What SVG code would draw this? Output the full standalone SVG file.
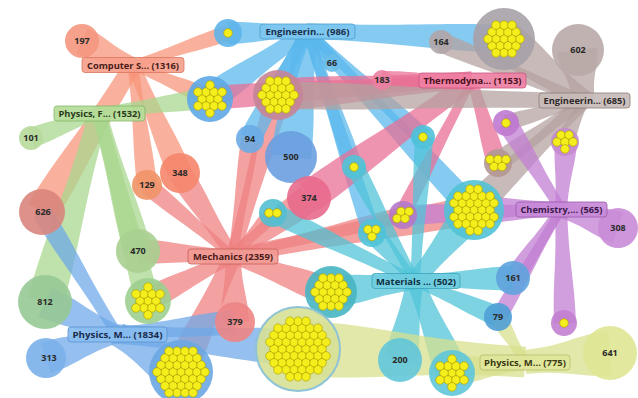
<svg xmlns="http://www.w3.org/2000/svg" xmlns:xlink="http://www.w3.org/1999/xlink" width="638" height="398" viewBox="0 0 638 398">
<style>
.rb{fill-opacity:.74}
.cs{fill:#f7957a}.me{fill:#ef8080}.pf{fill:#a9d68e}.pm{fill:#6fa8e8}.en{fill:#5bb8ec}
.th{fill:#ea6f95}.eg{fill:#b3a29f}.ch{fill:#c27ed2}.ma{fill:#4fc4d8}.py{fill:#d8e08c}
.n{fill-opacity:.9}
.num{font-family:"Open Sans","Noto Sans",sans-serif;font-size:9px;font-weight:700;fill:#2a2a2a;text-anchor:middle}
.lb{font-family:"Open Sans","Noto Sans",sans-serif;font-size:9.5px;font-weight:700;text-anchor:middle}
.box{stroke-width:.8;fill-opacity:.92}
</style>
<defs>
<path id="r" d="M0,-0.55 C0.5,-0.55 0.62,-1 1,-1 L1,1 C0.62,1 0.5,0.55 0,0.55Z"/>
<circle id="d" r="4.3" fill="#f4ef1c" stroke="#b3a400" stroke-width="0.7"/>
<g id="g1"><use href="#d"/></g>
<g id="g2"><use href="#d" x="-4"/><use href="#d" x="4"/></g>
<g id="g3"><use href="#d" x="-4" y="-3.5"/><use href="#d" x="4" y="-3.5"/><use href="#d" x="0" y="3.5"/></g>
<g id="g4"><use href="#d" x="0" y="-3.5"/><use href="#d" x="8" y="-3.5"/><use href="#d" x="-4" y="3.5"/><use href="#d" x="4" y="3.5"/></g>
<g id="g5"><use href="#d" x="-8" y="-3.5"/><use href="#d" x="0" y="-3.5"/><use href="#d" x="8" y="-3.5"/><use href="#d" x="-4" y="3.5"/><use href="#d" x="4" y="3.5"/></g>
<g id="g6"><use href="#d" x="-4" y="-6.93"/><use href="#d" x="4" y="-6.93"/><use href="#d" x="-8"/><use href="#d"/><use href="#d" x="8"/><use href="#d" x="0" y="6.93"/></g>
<g id="g13"><use href="#d"/><use href="#d" x="-8"/><use href="#d" x="8"/>
<use href="#d" x="-4" y="-6.93"/><use href="#d" x="4" y="-6.93"/><use href="#d" x="-12" y="-6.93"/><use href="#d" x="12" y="-6.93"/>
<use href="#d" x="-4" y="6.93"/><use href="#d" x="4" y="6.93"/><use href="#d" x="-12" y="6.93"/><use href="#d" x="12" y="6.93"/>
<use href="#d" x="0" y="-13.86"/><use href="#d" x="0" y="13.86"/></g>
<g id="g19"><use href="#g13"/><use href="#d" x="-16"/><use href="#d" x="16"/>
<use href="#d" x="-8" y="-13.86"/><use href="#d" x="8" y="-13.86"/><use href="#d" x="-8" y="13.86"/><use href="#d" x="8" y="13.86"/></g>
<g id="g31"><use href="#g19"/>
<use href="#d" x="-20" y="-6.93"/><use href="#d" x="20" y="-6.93"/><use href="#d" x="-20" y="6.93"/><use href="#d" x="20" y="6.93"/>
<use href="#d" x="-16" y="-13.86"/><use href="#d" x="16" y="-13.86"/><use href="#d" x="-16" y="13.86"/><use href="#d" x="16" y="13.86"/>
<use href="#d" x="-4" y="-20.79"/><use href="#d" x="4" y="-20.79"/><use href="#d" x="-4" y="20.79"/><use href="#d" x="4" y="20.79"/></g>
<g id="g37"><use href="#g31"/><use href="#d" x="-24"/><use href="#d" x="24"/>
<use href="#d" x="-12" y="-20.79"/><use href="#d" x="12" y="-20.79"/><use href="#d" x="-12" y="20.79"/><use href="#d" x="12" y="20.79"/></g>
<g id="g55"><use href="#g37"/>
<use href="#d" x="-28" y="-6.93"/><use href="#d" x="28" y="-6.93"/><use href="#d" x="-28" y="6.93"/><use href="#d" x="28" y="6.93"/>
<use href="#d" x="-24" y="-13.86"/><use href="#d" x="24" y="-13.86"/><use href="#d" x="-24" y="13.86"/><use href="#d" x="24" y="13.86"/>
<use href="#d" x="-20" y="-20.79"/><use href="#d" x="20" y="-20.79"/><use href="#d" x="-20" y="20.79"/><use href="#d" x="20" y="20.79"/>
<use href="#d" x="0" y="-27.72"/><use href="#d" x="-8" y="-27.72"/><use href="#d" x="8" y="-27.72"/>
<use href="#d" x="0" y="27.72"/><use href="#d" x="-8" y="27.72"/><use href="#d" x="8" y="27.72"/></g>
</defs>
<rect width="638" height="398" fill="#fff"/>
<g id="connectors" class="rb">
<use href="#r" class="cs" transform="translate(133,65) rotate(-154.8) scale(56.4,14)"/>
<use href="#r" class="cs" transform="translate(133,65) rotate(-18.6) scale(100.2,8)"/>
<use href="#r" class="cs" transform="translate(133,65) rotate(121.8) scale(172.9,16)"/>
<use href="#r" class="cs" transform="translate(133,65) rotate(83.3) scale(120.8,10)"/>
<use href="#r" class="cs" transform="translate(133,65) rotate(66.5) scale(117.8,12)"/>
<use href="#r" class="cs" transform="translate(133,65) rotate(23.2) scale(83.8,9)"/>
<use href="#r" class="me" transform="translate(233,256) rotate(-140.5) scale(111.5,9)"/>
<use href="#r" class="me" transform="translate(233,256) rotate(-122.6) scale(98.5,12)"/>
<use href="#r" class="me" transform="translate(233,256) rotate(-81.7) scale(118.2,9)"/>
<use href="#r" class="me" transform="translate(233,256) rotate(-177) scale(95.1,12)"/>
<use href="#r" class="me" transform="translate(233,256) rotate(-37.3) scale(95.6,14)"/>
<use href="#r" class="me" transform="translate(233,256) rotate(-47.1) scale(58.7,8)"/>
<use href="#r" class="me" transform="translate(233,256) rotate(-13.6) scale(174.9,8)"/>
<use href="#r" class="me" transform="translate(233,256) rotate(-10.9) scale(243.4,14)"/>
<use href="#r" class="me" transform="translate(233,256) rotate(88.3) scale(66,14)"/>
<use href="#r" class="me" transform="translate(233,256) rotate(20.4) scale(103.5,14)"/>
<use href="#r" class="me" transform="translate(233,256) rotate(114.6) scale(127.5,16)"/>
<use href="#r" class="me" transform="translate(233,256) rotate(-74.4) scale(167.2,12)"/>
<use href="#r" class="me" transform="translate(233,256) rotate(152.9) scale(96.6,12)"/>
<use href="#r" class="pf" transform="translate(99,113) rotate(159.8) scale(72.5,10)"/>
<use href="#r" class="pf" transform="translate(99,113) rotate(-7.7) scale(112,10)"/>
<use href="#r" class="pf" transform="translate(99,113) rotate(105.9) scale(196.6,18)"/>
<use href="#r" class="pf" transform="translate(99,113) rotate(74.2) scale(143.4,14)"/>
<use href="#r" class="pf" transform="translate(99,113) rotate(75.6) scale(193.1,12)"/>
<use href="#r" class="pm" transform="translate(117,334) rotate(161.3) scale(75,16)"/>
<use href="#r" class="pm" transform="translate(117,334) rotate(-156) scale(78.8,16)"/>
<use href="#r" class="pm" transform="translate(117,334) rotate(31.1) scale(73.6,22)"/>
<use href="#r" class="pm" transform="translate(117,334) rotate(-5.8) scale(118.6,12)"/>
<use href="#r" class="pm" transform="translate(117,334) rotate(4.4) scale(181.5,18)"/>
<use href="#r" class="pm" transform="translate(117,334) rotate(-121.6) scale(143.2,10)"/>
<use href="#r" class="en" transform="translate(307,31) rotate(178.5) scale(79,11)"/>
<use href="#r" class="en" transform="translate(307,31) rotate(145.4) scale(117.9,14)"/>
<use href="#r" class="en" transform="translate(307,31) rotate(114.4) scale(70.3,12)"/>
<use href="#r" class="en" transform="translate(307,31) rotate(117.8) scale(122.1,11)"/>
<use href="#r" class="en" transform="translate(307,31) rotate(97.2) scale(127,20)"/>
<use href="#r" class="en" transform="translate(307,31) rotate(52) scale(40.6,8)"/>
<use href="#r" class="en" transform="translate(307,31) rotate(70.9) scale(143.9,9)"/>
<use href="#r" class="en" transform="translate(307,31) rotate(42.4) scale(157.1,9)"/>
<use href="#r" class="en" transform="translate(307,31) rotate(2.3) scale(197.2,14)"/>
<use href="#r" class="en" transform="translate(307,31) rotate(47.3) scale(243.4,12)"/>
<use href="#r" class="en" transform="translate(307,31) rotate(72.2) scale(212.2,9)"/>
<use href="#r" class="th" transform="translate(472,80) rotate(180) scale(90,9)"/>
<use href="#r" class="th" transform="translate(472,80) rotate(175.6) scale(194.6,16)"/>
<use href="#r" class="th" transform="translate(472,80) rotate(176.1) scale(262.6,12)"/>
<use href="#r" class="th" transform="translate(472,80) rotate(144.3) scale(201,16)"/>
<use href="#r" class="th" transform="translate(472,80) rotate(73.2) scale(87,10)"/>
<use href="#r" class="th" transform="translate(472,80) rotate(117.4) scale(151.5,8)"/>
<use href="#r" class="eg" transform="translate(584,101) rotate(-97.8) scale(51.5,20)"/>
<use href="#r" class="eg" transform="translate(584,101) rotate(-142.6) scale(101,20)"/>
<use href="#r" class="eg" transform="translate(584,101) rotate(-157.7) scale(154.6,10)"/>
<use href="#r" class="eg" transform="translate(584,101) rotate(-178.9) scale(306.1,14)"/>
<use href="#r" class="eg" transform="translate(584,101) rotate(144.5) scale(106,10)"/>
<use href="#r" class="eg" transform="translate(584,101) rotate(136) scale(156,14)"/>
<use href="#r" class="eg" transform="translate(584,101) rotate(116) scale(45.6,9)"/>
<use href="#r" class="eg" transform="translate(584,101) rotate(164.4) scale(81,8)"/>
<use href="#r" class="ch" transform="translate(561,209) rotate(18.1) scale(60,16)"/>
<use href="#r" class="ch" transform="translate(561,209) rotate(-122.1) scale(102,10)"/>
<use href="#r" class="ch" transform="translate(561,209) rotate(-85.7) scale(67.2,11)"/>
<use href="#r" class="ch" transform="translate(561,209) rotate(177.8) scale(158.1,10)"/>
<use href="#r" class="ch" transform="translate(561,209) rotate(179.3) scale(89,14)"/>
<use href="#r" class="ch" transform="translate(561,209) rotate(124.3) scale(84,10)"/>
<use href="#r" class="ch" transform="translate(561,209) rotate(88) scale(114.1,11)"/>
<use href="#r" class="ch" transform="translate(561,209) rotate(119.9) scale(125,8)"/>
<use href="#r" class="ma" transform="translate(415,281) rotate(-86.4) scale(144.3,9)"/>
<use href="#r" class="ma" transform="translate(415,281) rotate(-117.8) scale(129.5,9)"/>
<use href="#r" class="ma" transform="translate(415,281) rotate(-154.3) scale(157.5,10)"/>
<use href="#r" class="ma" transform="translate(415,281) rotate(-131.2) scale(64.5,10)"/>
<use href="#r" class="ma" transform="translate(415,281) rotate(-50.8) scale(91,16)"/>
<use href="#r" class="ma" transform="translate(415,281) rotate(172.5) scale(85.7,16)"/>
<use href="#r" class="ma" transform="translate(415,281) rotate(100) scale(80.2,16)"/>
<use href="#r" class="ma" transform="translate(415,281) rotate(67.9) scale(97.5,16)"/>
<use href="#r" class="ma" transform="translate(415,281) rotate(-1.7) scale(98,12)"/>
<use href="#r" class="ma" transform="translate(415,281) rotate(23.2) scale(90.5,10)"/>
<use href="#r" class="py" transform="translate(525,362) rotate(-6) scale(85.5,22)"/>
<use href="#r" class="py" transform="translate(525,362) rotate(-176.5) scale(227.4,28)"/>
<use href="#r" class="py" transform="translate(525,362) rotate(172.3) scale(74.7,14)"/>
<use href="#r" class="py" transform="translate(525,362) rotate(-121) scale(52.5,8)"/>
</g>
<g id="s197"><circle class="n" cx="82" cy="41" r="17" fill="#f4977f"/><text class="num" x="82" y="44">197</text></g>
<g id="s101"><circle class="n" cx="31" cy="138" r="12" fill="#b8da9c"/><text class="num" x="31" y="141">101</text></g>
<g id="s626"><circle class="n" cx="42" cy="212" r="23" fill="#d9857d"/><text class="num" x="43" y="215">626</text></g>
<g id="s129"><circle class="n" cx="147" cy="185" r="15" fill="#ef9468"/><text class="num" x="147" y="188">129</text></g>
<g id="s348"><circle class="n" cx="180" cy="173" r="20" fill="#f5866c"/><text class="num" x="180" y="176">348</text></g>
<g id="s470"><circle class="n" cx="138" cy="251" r="22" fill="#a8cf90"/><text class="num" x="138" y="254">470</text></g>
<g id="s812"><circle class="n" cx="45" cy="302" r="27" fill="#97c994"/><text class="num" x="45" y="305">812</text></g>
<g id="s313"><circle class="n" cx="46" cy="358" r="20" fill="#7ab0ea"/><text class="num" x="49" y="361">313</text></g>
<g id="s94"><circle class="n" cx="250" cy="139" r="14" fill="#6aabe4"/><text class="num" x="250" y="142">94</text></g>
<g id="s500"><circle class="n" cx="291" cy="157" r="26" fill="#6b9ee0"/><text class="num" x="291" y="160">500</text></g>
<g id="s374"><circle class="n" cx="309" cy="198" r="22" fill="#e8698c"/><text class="num" x="309" y="201">374</text></g>
<g id="s66"><circle class="n" cx="332" cy="63" r="9" fill="#6cbde9"/><text class="num" x="332" y="66">66</text></g>
<g id="s183"><circle class="n" cx="382" cy="80" r="10" fill="#ec80a2"/><text class="num" x="382" y="83">183</text></g>
<g id="s164"><circle class="n" cx="441" cy="42" r="12" fill="#b0a6a8"/><text class="num" x="441" y="45">164</text></g>
<g id="s602"><circle class="n" cx="578" cy="50" r="26" fill="#b8aaa7"/><text class="num" x="578" y="53">602</text></g>
<g id="s308"><circle class="n" cx="618" cy="228" r="20" fill="#c98bd7"/><text class="num" x="618" y="231">308</text></g>
<g id="s379"><circle class="n" cx="235" cy="322" r="20" fill="#ed8585"/><text class="num" x="235" y="325">379</text></g>
<g id="s200"><circle class="n" cx="400" cy="360" r="22" fill="#62c6da"/><text class="num" x="400" y="363">200</text></g>
<g id="s161"><circle class="n" cx="513" cy="278" r="17" fill="#5fa3de"/><text class="num" x="513" y="281">161</text></g>
<g id="s79"><circle class="n" cx="498" cy="317" r="14" fill="#4f9ed6"/><text class="num" x="498" y="320">79</text></g>
<g id="s641"><circle class="n" cx="610" cy="353" r="27" fill="#dfe592"/><text class="num" x="610" y="356">641</text></g>
<g id="k1"><circle class="n" cx="228" cy="33" r="14" fill="#5db5ea"/><use href="#g1" x="228" y="33"/></g>
<g id="k2"><circle class="n" cx="504" cy="39" r="31" fill="#a7a1a8"/><use href="#g19" x="504" y="39"/></g>
<g id="k3"><circle class="n" cx="210" cy="99" r="23" fill="#5ea9e6"/><use href="#g13" x="210" y="99"/></g>
<g id="k4"><circle class="n" cx="278" cy="95" r="25" fill="#c58497"/><use href="#g19" x="278" y="95"/></g>
<g id="k5"><circle class="n" cx="423" cy="137" r="12" fill="#4fc1d8"/><use href="#g1" x="423" y="137"/></g>
<g id="k6"><circle class="n" cx="506" cy="123" r="13" fill="#bf79d0"/><use href="#g1" x="506" y="123"/></g>
<g id="k7"><circle class="n" cx="565" cy="142" r="14" fill="#c48ad0"/><use href="#g6" x="565" y="142"/></g>
<g id="k8"><circle class="n" cx="354" cy="167" r="12" fill="#50c3d7"/><use href="#g1" x="354" y="167"/></g>
<g id="k9"><circle class="n" cx="498" cy="163" r="14" fill="#b39795"/><use href="#g5" x="498" y="163"/></g>
<g id="k10"><circle class="n" cx="273" cy="213" r="14" fill="#52bfd0"/><use href="#g2" x="273" y="213"/></g>
<g id="k11"><circle class="n" cx="372" cy="233" r="14" fill="#4fc3d8"/><use href="#g3" x="372" y="233"/></g>
<g id="k12"><circle class="n" cx="403" cy="215" r="14" fill="#b479c8"/><use href="#g4" x="401" y="215"/></g>
<g id="k13"><circle class="n" cx="474" cy="210" r="30" fill="#52c2d6"/><use href="#g31" x="474" y="210"/></g>
<g id="k14"><circle class="n" cx="148" cy="301" r="23" fill="#9ccf90"/><use href="#g13" x="148" y="301"/></g>
<g id="k15"><circle class="n" cx="331" cy="292" r="26" fill="#47b5c3"/><use href="#g19" x="331" y="292"/></g>
<g id="k16"><circle class="n" cx="298" cy="349" r="42" fill="#d6e096" stroke="#8fc3d6" stroke-width="2"/><use href="#g55" x="298" y="349"/></g>
<g id="k17"><circle class="n" cx="181" cy="372" r="32" fill="#6aa7e3"/><use href="#g37" x="181" y="372"/></g>
<g id="k18"><circle class="n" cx="452" cy="373" r="23" fill="#5ec7d9"/><use href="#g13" x="452" y="373"/></g>
<g id="k19"><circle class="n" cx="564" cy="323" r="13" fill="#c27ed2"/><use href="#g1" x="564" y="323"/></g>
<g id="hub-computer"><rect class="box" x="82" y="57.5" width="102" height="15" rx="3" fill="#f6a08c" stroke="#d9765e"/><text class="lb" x="133" y="68.5" fill="#4a2018" textLength="92" lengthAdjust="spacingAndGlyphs">Computer S... (1316)</text></g>
<g id="hub-eng986"><rect class="box" x="260" y="24" width="95" height="15" rx="3" fill="#7cc6ef" stroke="#4a9fd0"/><text class="lb" x="307.5" y="35" fill="#1a2f4a" textLength="84" lengthAdjust="spacingAndGlyphs">Engineerin... (986)</text></g>
<g id="hub-thermo"><rect class="box" x="419" y="73" width="107" height="15" rx="3" fill="#ee7fa3" stroke="#cc5580"/><text class="lb" x="472.5" y="84" fill="#4a1020" textLength="98" lengthAdjust="spacingAndGlyphs">Thermodyna... (1153)</text></g>
<g id="hub-eng685"><rect class="box" x="539" y="93" width="91" height="15" rx="3" fill="#c8bcb9" stroke="#8a7d7a"/><text class="lb" x="584.5" y="104" fill="#2e2a2a" textLength="82" lengthAdjust="spacingAndGlyphs">Engineerin... (685)</text></g>
<g id="hub-physf"><rect class="box" x="54" y="106" width="91" height="15" rx="3" fill="#b4dc98" stroke="#86b86a"/><text class="lb" x="99.5" y="117" fill="#2a3a1a" textLength="82" lengthAdjust="spacingAndGlyphs">Physics, F... (1532)</text></g>
<g id="hub-mech"><rect class="box" x="188" y="249" width="90" height="15" rx="3" fill="#f29a94" stroke="#c8605a"/><text class="lb" x="233" y="260" fill="#4a1a1a" textLength="80" lengthAdjust="spacingAndGlyphs">Mechanics (2359)</text></g>
<g id="hub-chem"><rect class="box" x="516" y="202" width="91" height="15" rx="3" fill="#c88ad8" stroke="#9a5aae"/><text class="lb" x="561.5" y="213" fill="#3a1a4a" textLength="82" lengthAdjust="spacingAndGlyphs">Chemistry,... (565)</text></g>
<g id="hub-materials"><rect class="box" x="372" y="273.5" width="88" height="15" rx="3" fill="#6fcde0" stroke="#3aa5bb"/><text class="lb" x="416" y="284.5" fill="#0f3040" textLength="80" lengthAdjust="spacingAndGlyphs">Materials ... (502)</text></g>
<g id="hub-physm1834"><rect class="box" x="68" y="327" width="99" height="15" rx="3" fill="#88bdf0" stroke="#5a95d0"/><text class="lb" x="117.5" y="338" fill="#1a2a4a" textLength="90" lengthAdjust="spacingAndGlyphs">Physics, M... (1834)</text></g>
<g id="hub-physm775"><rect class="box" x="480" y="355" width="90" height="15" rx="3" fill="#dfe59a" stroke="#b5bc6a"/><text class="lb" x="525" y="366" fill="#3a3a10" textLength="82" lengthAdjust="spacingAndGlyphs">Physics, M... (775)</text></g>
</svg>
